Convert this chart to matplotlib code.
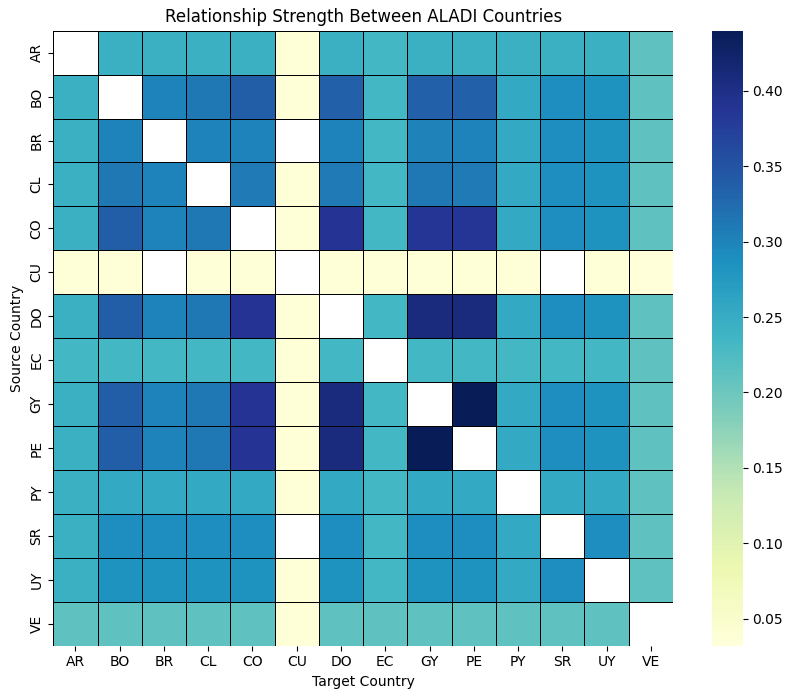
import numpy as np
import matplotlib
matplotlib.use("Agg")
import matplotlib.pyplot as plt
import seaborn as sns

countries = ["AR", "BO", "BR", "CL", "CO", "CU", "DO", "EC", "GY", "PE", "PY", "SR", "UY", "VE"]
nan = np.nan
row_AR = [nan, 0.245, 0.245, 0.245, 0.245, 0.036, 0.245, 0.233, 0.245, 0.245, 0.245, 0.245, 0.245, 0.212]
row_BO = [0.245, nan, 0.300, 0.311, 0.337, 0.036, 0.335, 0.233, 0.336, 0.335, 0.255, 0.290, 0.285, 0.212]
row_BR = [0.245, 0.300, nan, 0.300, 0.300, nan, 0.300, 0.233, 0.302, 0.300, 0.255, 0.290, 0.285, 0.212]
row_CL = [0.245, 0.311, 0.300, nan, 0.310, 0.036, 0.310, 0.233, 0.311, 0.310, 0.255, 0.290, 0.285, 0.212]
row_CO = [0.245, 0.337, 0.300, 0.311, nan, 0.036, 0.388, 0.233, 0.386, 0.386, 0.255, 0.290, 0.285, 0.212]
row_CU = [0.036, 0.036, nan, 0.036, 0.036, nan, 0.036, 0.036, 0.036, 0.036, 0.036, nan, 0.036, 0.032]
row_DO = [0.245, 0.337, 0.300, 0.311, 0.388, 0.036, nan, 0.233, 0.408, 0.408, 0.255, 0.290, 0.285, 0.212]
row_EC = [0.233, 0.233, 0.233, 0.233, 0.233, 0.036, 0.233, nan, 0.233, 0.233, 0.233, 0.233, 0.233, 0.212]
row_GY = [0.245, 0.337, 0.300, 0.311, 0.388, 0.036, 0.408, 0.233, nan, 0.440, 0.255, 0.290, 0.285, 0.212]
row_PE = [0.245, 0.337, 0.300, 0.311, 0.388, 0.036, 0.408, 0.233, 0.440, nan, 0.255, 0.290, 0.285, 0.212]
row_PY = [0.245, 0.255, 0.255, 0.255, 0.255, 0.036, 0.255, 0.233, 0.255, 0.255, nan, 0.255, 0.255, 0.212]
row_SR = [0.245, 0.290, 0.290, 0.290, 0.290, nan, 0.290, 0.233, 0.290, 0.290, 0.255, nan, 0.290, 0.212]
row_UY = [0.245, 0.284, 0.285, 0.285, 0.285, 0.036, 0.285, 0.233, 0.285, 0.285, 0.255, 0.290, nan, 0.212]
row_VE = [0.212, 0.212, 0.212, 0.212, 0.212, 0.036, 0.212, 0.212, 0.212, 0.212, 0.212, 0.212, 0.212, nan]

data = np.array([row_AR, row_BO, row_BR, row_CL, row_CO, row_CU, row_DO,
                 row_EC, row_GY, row_PE, row_PY, row_SR, row_UY, row_VE])

W, H = 793, 699
fig = plt.figure(figsize=(W/100, H/100), dpi=100)
ax = fig.add_axes([53.3/W, 1-645.7/H, (673-53.3)/W, (645.7-30.7)/H])
cax = fig.add_axes([711.7/W, 1-645.7/H, 31/W, (645.7-30.7)/H])
sns.heatmap(data, ax=ax, cbar_ax=cax, cmap="YlGnBu", linewidths=0.5, linecolor="black",
            xticklabels=countries, yticklabels=countries, vmin=0.032, vmax=0.44)
cax.set_yticks([0.05, 0.10, 0.15, 0.20, 0.25, 0.30, 0.35, 0.40])
ax.set_title("Relationship Strength Between ALADI Countries", fontsize=12)
ax.set_xlabel("Target Country")
ax.set_ylabel("Source Country")
fig.savefig("out.png", dpi=100)
